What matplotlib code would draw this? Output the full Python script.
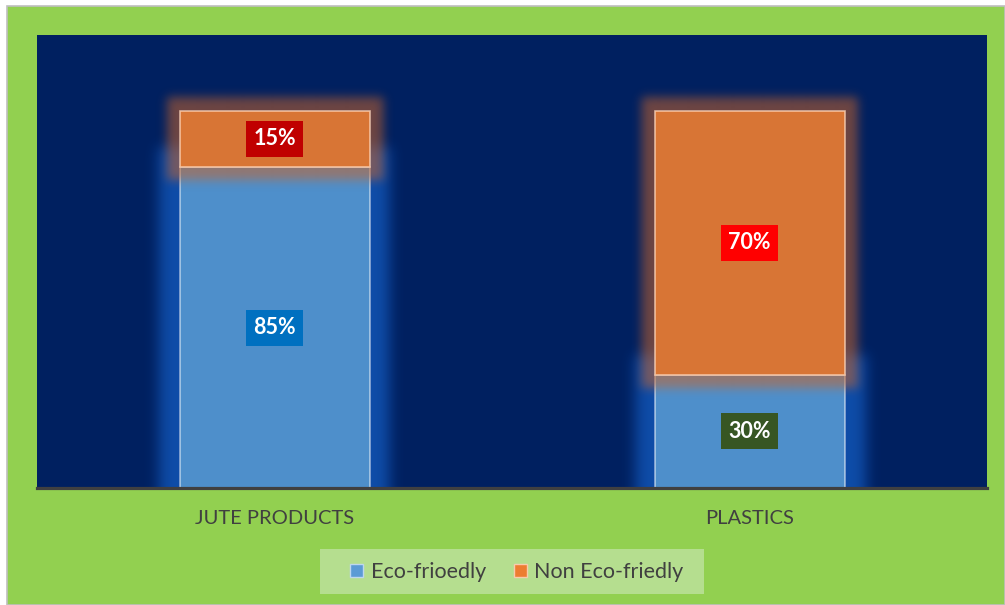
import matplotlib
matplotlib.use("Agg")
import matplotlib.pyplot as plt
import numpy as np
from matplotlib.patches import Rectangle, Patch
from matplotlib.colors import to_rgb

# chart data
categories = ["JUTE PRODUCTS", "PLASTICS"]
eco_friendly = [0.85, 0.30]
non_eco = [0.15, 0.70]
eco_label_colors = ["#0070C0", "#375623"]
non_eco_label_colors = ["#C00000", "#FF0000"]

plt.rcParams["font.family"] = ["Lato", "DejaVu Sans"]

W, H = 1005, 605
fig = plt.figure(figsize=(W / 100, H / 100), dpi=100)
fig.patch.set_facecolor("white")

# green chart area with a thin grey frame
fig.patches.append(Rectangle((7 / W, 0), 1 - 7 / W, 1 - 6 / H, transform=fig.transFigure,
                             facecolor="#92D050", edgecolor="#BFBFBF", linewidth=1.2, zorder=-10))
# light green legend panel
fig.patches.append(Rectangle((320 / W, 1 - 594 / H), 384 / W, 45 / H, transform=fig.transFigure,
                             facecolor="#B5DE8F", edgecolor="none", zorder=-5))

left, right, top, bottom = 37, 987, 35, 488
ax = fig.add_axes([left / W, (H - bottom) / H, (right - left) / W, (bottom - top) / H])
ax.set_facecolor("#002060")
xlim, ylim = (-0.5, 1.5), (0, 1.2)

x = list(range(len(categories)))
bar_w = 0.4
nx, ny = right - left, bottom - top


def blur(a, sigma):
    r = int(3 * sigma)
    k = np.exp(-0.5 * (np.arange(-r, r + 1) / sigma) ** 2)
    k /= k.sum()
    a = np.apply_along_axis(lambda v: np.convolve(v, k, mode="same"), 0, a)
    return np.apply_along_axis(lambda v: np.convolve(v, k, mode="same"), 1, a)


def glow(xs, heights, bottoms, color, grow, sigma, strength, z):
    # soft halo: enlarged bar footprint, blurred, shown as an rgba image
    pad = 60
    mask = np.zeros((ny + 2 * pad, nx + 2 * pad))
    for xi, h, b in zip(xs, heights, bottoms):
        c0 = (xi - bar_w / 2 - xlim[0]) / (xlim[1] - xlim[0]) * nx - grow + pad
        c1 = (xi + bar_w / 2 - xlim[0]) / (xlim[1] - xlim[0]) * nx + grow + pad
        r0 = (1 - (b + h) / ylim[1]) * ny - grow + pad
        r1 = (1 - b / ylim[1]) * ny + grow + pad
        mask[int(round(r0)):int(round(r1)), int(round(c0)):int(round(c1))] = 1
    mask = blur(mask, sigma)[pad:-pad, pad:-pad]
    img = np.zeros((ny, nx, 4))
    img[..., :3] = to_rgb(color)
    img[..., 3] = np.clip(mask * strength, 0, 1)
    ax.imshow(img, extent=(*xlim, *ylim), aspect="auto", zorder=z, interpolation="bilinear")


eco_bottom = [0, 0]
glow(x, eco_friendly, eco_bottom, "#1560C8", grow=20, sigma=7, strength=0.7, z=1)
ax.bar(x, eco_friendly, width=bar_w, color="#4E8FCB",
       edgecolor=(1, 1, 1, 0.55), linewidth=1.2, zorder=2)

glow(x, non_eco, eco_friendly, "#C8642A", grow=13, sigma=5, strength=0.55, z=3)
ax.bar(x, non_eco, bottom=eco_friendly, width=bar_w, color="#D87535",
       edgecolor=(1, 0.85, 0.75, 0.75), linewidth=1.2, zorder=4)
ax.set_xlim(*xlim)
ax.set_ylim(*ylim)

# value labels in coloured boxes
for i in x:
    ax.text(i, eco_friendly[i] / 2, f"{eco_friendly[i]:.0%}", ha="center", va="center",
            color="white", fontsize=15.5, fontweight="bold", zorder=6,
            bbox=dict(boxstyle="square,pad=0.35", facecolor=eco_label_colors[i], edgecolor="none"))
    ax.text(i, eco_friendly[i] + non_eco[i] / 2, f"{non_eco[i]:.0%}", ha="center", va="center",
            color="white", fontsize=15.5, fontweight="bold", zorder=6,
            bbox=dict(boxstyle="square,pad=0.35", facecolor=non_eco_label_colors[i], edgecolor="none"))

ax.set_xticks(x)
ax.set_xticklabels(categories, fontsize=14.5, color="#404040")
ax.tick_params(axis="x", length=0, pad=16)
ax.set_yticks([])
for s in ["top", "left", "right"]:
    ax.spines[s].set_visible(False)
ax.spines["bottom"].set_color("#404040")
ax.spines["bottom"].set_linewidth(2.3)
ax.spines["bottom"].set_zorder(7)

handles = [Patch(facecolor="#5B9BD5", edgecolor="#BDD7EE", label="Eco-frioedly"),
           Patch(facecolor="#ED7D31", edgecolor="#F8CBAD", label="Non Eco-friedly")]
leg = fig.legend(handles=handles, loc="center", bbox_to_anchor=(517 / W, 1 - 572 / H),
                 ncol=2, frameon=False, fontsize=15.5, handlelength=0.6,
                 handleheight=0.6, handletextpad=0.35, columnspacing=1.3,
                 labelcolor="#404040", borderpad=0, borderaxespad=0)

fig.savefig("out.png", dpi=100, facecolor=fig.get_facecolor())
